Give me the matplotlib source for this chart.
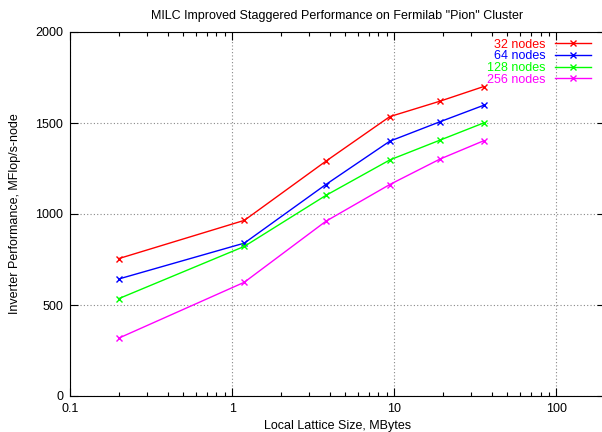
import numpy as np
import matplotlib.pyplot as plt
from matplotlib.ticker import LogLocator, FixedLocator, FuncFormatter

plt.rcParams['font.family'] = ['Liberation Sans', 'DejaVu Sans']

# 格子サイズ [MB]
lattice_mb = [0.2, 1.19, 3.79, 9.4, 19.2, 35.6]

# ノード数ごとのインバータ性能 [MFlop/s-node]
perf_32 = [755, 965, 1290, 1535, 1620, 1700]
perf_64 = [643, 840, 1162, 1400, 1507, 1597]
perf_128 = [535, 822, 1102, 1297, 1406, 1500]
perf_256 = [318, 625, 960, 1162, 1302, 1402]

labels = ['32 nodes', '64 nodes', '128 nodes', '256 nodes']
colors = ['#ff0000', '#0000ff', '#00ff00', '#ff00ff']

fig = plt.figure(figsize=(6.02, 4.32), dpi=100)
ax = fig.add_axes([70 / 602, 36 / 432, 535 / 602, 364 / 432])

for y, lab, c in zip([perf_32, perf_64, perf_128, perf_256], labels, colors):
    ax.plot(lattice_mb, y, color=c, lw=1, marker='x', ms=5, mew=1, label=lab)

ax.set_xscale('log')
ax.set_xlim(0.1, 200)
ax.set_ylim(0, 2000)
ax.xaxis.set_major_locator(FixedLocator([0.1, 1, 10, 100]))
ax.xaxis.set_major_formatter(FuncFormatter(lambda v, p: f'{v:g}'))
ax.xaxis.set_minor_locator(LogLocator(base=10, subs=np.arange(2, 10)))
ax.yaxis.set_major_locator(FixedLocator([0, 500, 1000, 1500, 2000]))

ax.tick_params(which='both', direction='in', top=True, right=True,
               labelsize=9, width=0.8, pad=5)
ax.tick_params(which='major', length=6)
ax.tick_params(which='minor', length=3)
ax.grid(True, which='major', color='#888888', ls=(0, (1, 2)), lw=0.8)
for s in ax.spines.values():
    s.set_linewidth(0.8)

ax.set_title('MILC Improved Staggered Performance on Fermilab "Pion" Cluster',
             fontsize=9, pad=9)
ax.set_xlabel('Local Lattice Size, MBytes', fontsize=9, labelpad=4)
ax.set_ylabel('Inverter Performance, MFlop/s-node', fontsize=9, labelpad=10)

# 凡例: 文字は右寄せ、線の色と同じ色
ax.legend(loc='upper right', bbox_to_anchor=(0.991, 1.006), frameon=False,
          markerfirst=False, labelcolor='linecolor', fontsize=9,
          handlelength=2.9, handletextpad=0.8, labelspacing=-0.02,
          borderaxespad=0.3)

fig.savefig('out.png', dpi=100)
